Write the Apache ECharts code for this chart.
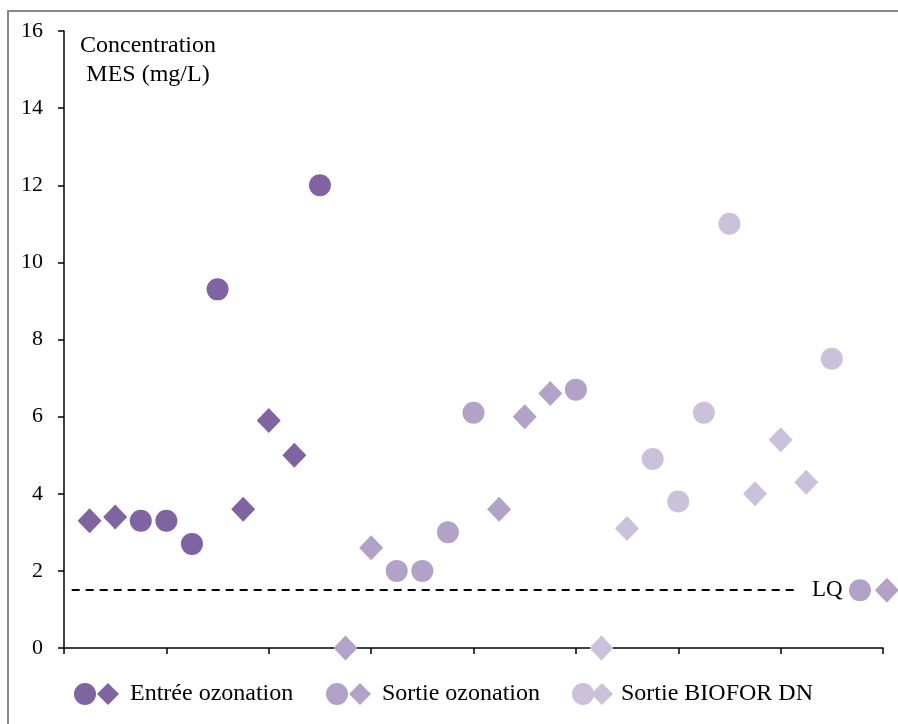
<!DOCTYPE html>
<html><head><meta charset="utf-8">
<script src="https://cdn.jsdelivr.net/npm/echarts@6/dist/echarts.min.js"></script>
<style>html,body{margin:0;padding:0;background:#fff}#c{width:898px;height:724px}</style>
</head><body><div id="c"></div>
<script>
// Sample slot index (position along the unlabelled x axis) and MES concentration (mg/L)
const entreeCircleX = [3, 4, 5, 6, 10];
const entreeCircleY = [3.3, 3.3, 2.7, 9.3, 12.0];
const entreeDiamondX = [1, 2, 7, 8, 9];
const entreeDiamondY = [3.3, 3.4, 3.6, 5.9, 5.0];
const sortieCircleX = [13, 14, 15, 16, 20, 31.1];
const sortieCircleY = [2.0, 2.0, 3.0, 6.1, 6.7, 1.5];
const sortieDiamondX = [11, 12, 17, 18, 19, 32.15];
const sortieDiamondY = [0, 2.6, 3.6, 6.0, 6.6, 1.5];
const bioforCircleX = [23, 24, 25, 26, 30];
const bioforCircleY = [4.9, 3.8, 6.1, 11.0, 7.5];
const bioforDiamondX = [21, 22, 27, 28, 29];
const bioforDiamondY = [0, 3.1, 4.0, 5.4, 4.3];
const lqValue = 1.5;
const lqStartX = 0.3, lqEndX = 28.6;
const yTicks = [0, 2, 4, 6, 8, 10, 12, 14, 16];
const groupNames = ['Entrée ozonation', 'Sortie ozonation', 'Sortie BIOFOR DN'];
const yTitle = 'Concentration\nMES (mg/L)';

const colors = ['#8064A2', '#B3A2C7', '#CCC1DA'];
const FONT = '"Liberation Serif", "Times New Roman", serif';
const pair = (xs, ys) => xs.map((x, i) => [x, ys[i]]);
const circleTag = ' (cercle)';

const groups = [
  [entreeCircleX, entreeCircleY, entreeDiamondX, entreeDiamondY],
  [sortieCircleX, sortieCircleY, sortieDiamondX, sortieDiamondY],
  [bioforCircleX, bioforCircleY, bioforDiamondX, bioforDiamondY]
];

const series = [];
groups.forEach((g, i) => {
  series.push({
    name: groupNames[i] + circleTag, type: 'scatter', symbol: 'circle', symbolSize: 22, clip: false,
    itemStyle: {color: colors[i], opacity: 1}, data: pair(g[0], g[1]), z: 3
  });
  series.push({
    name: groupNames[i], type: 'scatter', symbol: 'diamond', symbolSize: [24, 25], clip: false,
    itemStyle: {color: colors[i], opacity: 1}, data: pair(g[2], g[3]), z: 3
  });
});
series.push({
  name: 'LQ', type: 'line', data: [], silent: true,
  markLine: {
    silent: true, symbol: 'none',
    lineStyle: {color: '#000', type: [8, 6], width: 2},
    label: {show: true, position: 'end', formatter: 'LQ', distance: 16, color: '#000', fontFamily: FONT, fontSize: 23},
    data: [[{coord: [lqStartX, lqValue]}, {coord: [lqEndX, lqValue]}]]
  }
});

const legendLefts = [74, 326, 572];
const legends = groupNames.map((n, i) => ({
  left: legendLefts[i], top: 682, orient: 'horizontal', padding: 0,
  itemWidth: 22, itemHeight: 22, itemGap: i === 2 ? -3 : 1,
  data: [{name: n + circleTag, icon: 'circle'}, {name: n, icon: 'diamond'}],
  formatter: (name) => name.indexOf(circleTag) >= 0 ? '' : name,
  itemStyle: {opacity: 1},
  textStyle: {fontFamily: FONT, fontSize: 24, color: '#000', padding: [0, 0, 0, i === 2 ? 3 : 6]},
  selectedMode: false
}));

const chart = echarts.init(document.getElementById('c'), null, {renderer: 'canvas'});
chart.setOption({
  animation: false,
  backgroundColor: '#fff',
  grid: {left: 64, right: 15, top: 31, bottom: 76},
  legend: legends,
  xAxis: {
    type: 'value', min: 0, max: 32, interval: 4,
    axisLine: {lineStyle: {color: '#000', width: 1.5}},
    axisTick: {show: true, length: 6, lineStyle: {color: '#000', width: 1.5}},
    axisLabel: {show: false}, splitLine: {show: false}
  },
  yAxis: {
    type: 'value', min: yTicks[0], max: yTicks[yTicks.length - 1], interval: yTicks[1] - yTicks[0],
    axisLine: {show: true, lineStyle: {color: '#000', width: 1.5}},
    axisTick: {show: true, length: 6, lineStyle: {color: '#000', width: 1.5}},
    axisLabel: {color: '#000', fontFamily: FONT, fontSize: 22, margin: 21},
    splitLine: {show: false}
  },
  graphic: [
    {type: 'rect', shape: {x: 8, y: 11, width: 900, height: 730}, style: {fill: 'none', stroke: '#888', lineWidth: 2}, silent: true, z: 0},
    {type: 'text', x: 148, y: 31, style: {text: yTitle, fill: '#000', font: '24px ' + FONT, textAlign: 'center', textVerticalAlign: 'top', lineHeight: 29}, z: 10}
  ],
  series: series
});
</script></body></html>
